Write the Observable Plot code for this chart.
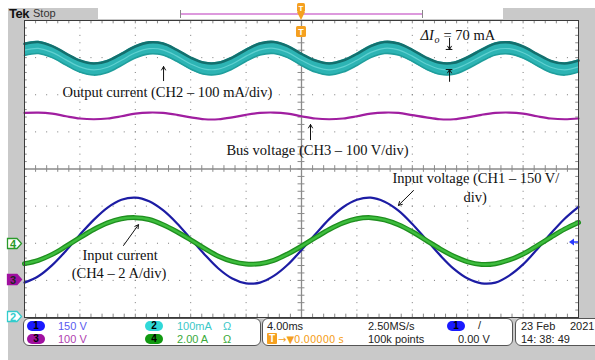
<!DOCTYPE html>
<html><head><meta charset="utf-8">
<script src="https://cdn.jsdelivr.net/npm/d3@7"></script>
<script src="https://cdn.jsdelivr.net/npm/@observablehq/plot@0.6"></script>
<style>
body{margin:0;background:#fff;}
#wrap{position:relative;width:595px;height:360px;overflow:hidden;font-family:"Liberation Sans",Arial,sans-serif;}
.a{position:absolute;white-space:nowrap;}
#bg{left:8px;top:8px;width:587px;height:352px;background:#c9c9c9;}
#plot{left:0;top:0;}
.box{background:#fff;border:1px solid #555;border-radius:6px;box-sizing:border-box;}
.t{font-size:11px;line-height:11px;}
.pill{width:18px;height:10px;border-radius:5px;font-size:10px;line-height:10px;text-align:center;color:#000;font-weight:bold;}
</style></head>
<body>
<div id="wrap">
  <div class="a" id="bg"></div>
  <div class="a" id="plot"></div>
</div>
<script>
// ---- data ----
// time in ms (4 ms/div, trigger at centre), values in divisions from screen centre
const time = d3.range(-20, 21, 1);
const ch1 = [-3.06,-2.89,-2.59,-2.20,-1.77,-1.37,-1.04,-0.83,-0.77,-0.87,-1.11,-1.46,-1.88,-2.30,-2.68,-2.95,-3.08,-3.06,-2.88,-2.58,-2.18,-1.76,-1.35,-1.03,-0.83,-0.77,-0.88,-1.12,-1.48,-1.90,-2.32,-2.69,-2.95,-3.08,-3.06,-2.87,-2.57,-2.17,-1.74,-1.34,-1.02];
const ch2 = [3.22,3.27,3.16,2.96,2.77,2.69,2.76,2.95,3.15,3.26,3.23,3.06,2.85,2.71,2.71,2.85,3.06,3.23,3.27,3.16,2.95,2.77,2.69,2.77,2.95,3.16,3.27,3.23,3.06,2.85,2.71,2.71,2.86,3.06,3.23,3.26,3.15,2.95,2.76,2.69,2.77];
const ch3 = [1.51,1.52,1.49,1.42,1.36,1.34,1.36,1.42,1.49,1.52,1.51,1.46,1.39,1.34,1.34,1.39,1.46,1.51,1.52,1.49,1.42,1.36,1.34,1.36,1.42,1.49,1.52,1.51,1.45,1.39,1.34,1.34,1.39,1.46,1.51,1.52,1.49,1.42,1.36,1.34,1.36];
const ch4 = [-2.55,-2.46,-2.30,-2.08,-1.85,-1.63,-1.45,-1.34,-1.31,-1.36,-1.50,-1.69,-1.91,-2.14,-2.35,-2.49,-2.56,-2.55,-2.46,-2.29,-2.08,-1.85,-1.63,-1.45,-1.34,-1.31,-1.37,-1.50,-1.69,-1.92,-2.15,-2.35,-2.50,-2.57,-2.55,-2.45,-2.29,-2.07,-1.84,-1.62,-1.44];
// graticule
const timeTicks = d3.range(-20, 21, 4);
const divTicks = d3.range(-4, 5, 1);
const minorT = d3.range(-20, 20.01, 0.8);
const minorV = d3.range(-4, 4.01, 0.2);
// annotations
const labels = [
  {t:-17.26, v:2.06, text:"Output current (CH2 \u2013 100 mA/div)"},
  {t:-5.42, v:0.50, text:"Bus voltage (CH3 \u2013 100 V/div)"},
  {t:6.57, v:-0.26, text:"Input voltage (CH1 \u2013 150 V/"},
  {t:11.70, v:-0.77, text:"div)"},
  {t:10.25, v:3.60, text:"= 70 mA"}
];
const centred = [
  {t:-13.1, v:-2.33, text:"Input current"},
  {t:-13.18, v:-2.81, text:"(CH4 \u2013 2 A/div)"}
];
const arrows = [
  {t1:-9.96, v1:2.38, t2:-9.96, v2:2.76},
  {t1:0.65, v1:0.79, t2:0.65, v2:1.20},
  {t1:-12.85, v1:-2.06, t2:-11.77, v2:-1.50},
  {t1:8.09, v1:-0.58, t2:7.0, v2:-0.98},
  {t1:10.69, v1:3.52, t2:10.69, v2:3.22},
  {t1:10.69, v1:2.36, t2:10.69, v2:2.68}
];
const bars = [{v:3.22},{v:2.68}];

const rows = (arr) => time.map((t,i)=>({t, v:arr[i]}));
const d1 = rows(ch1), d2 = rows(ch2), d3r = rows(ch3), d4 = rows(ch4);
const serif = "Liberation Serif, Times New Roman, serif";
const cr = "catmull-rom";

const plot = Plot.plot({
  width:595, height:360,
  marginLeft:24, marginRight:17, marginTop:20, marginBottom:43,
  x:{domain:[-20,20], axis:null},
  y:{domain:[-4,4], axis:null},
  style:{background:"transparent", overflow:"visible"},
  marks:[
    Plot.frame({fill:"white", stroke:null}),
    Plot.ruleX(timeTicks.filter(d=>d!==0 && Math.abs(d)!==20), {y1:4, y2:-4, stroke:"#7a7a7a", strokeDasharray:"1 6.425"}),
    Plot.ruleY(divTicks.filter(d=>d!==0 && Math.abs(d)!==4), {x1:-20, x2:20, stroke:"#7a7a7a", strokeDasharray:"1 10.08"}),
    Plot.ruleY([0], {stroke:"#8a8a8a", strokeWidth:1.3}),
    Plot.ruleX([0], {stroke:"#8a8a8a", strokeWidth:1.3}),
    Plot.ruleX(minorT, {y1:-0.09, y2:0.09, stroke:"#8a8a8a"}),
    Plot.ruleY(minorV, {x1:-0.25, x2:0.25, stroke:"#8a8a8a"}),
    Plot.ruleX(minorT, {y1:3.91, y2:4, stroke:"#8a8a8a"}),
    Plot.ruleX(minorT, {y1:-4, y2:-3.91, stroke:"#8a8a8a"}),
    Plot.ruleY(minorV, {x1:-20, x2:-19.8, stroke:"#8a8a8a"}),
    Plot.ruleY(minorV, {x1:19.8, x2:20, stroke:"#8a8a8a"}),
    // CH1 input voltage
    Plot.line(d1, {x:"t", y:"v", stroke:"#1c1ca4", strokeWidth:2.2, curve:cr}),
    // CH2 output current (wide noisy band)
    Plot.areaY(d2, {x:"t", y1:d=>d.v-0.18, y2:d=>d.v+0.17, fill:"#2db4b4", curve:cr}),
    Plot.line(d2, {x:"t", y:d=>d.v+0.15, stroke:"#13706e", strokeWidth:2.6, curve:cr}),
    Plot.line(d2, {x:"t", y:d=>d.v-0.16, stroke:"#1f9e9c", strokeWidth:1.6, curve:cr}),
    Plot.line(d2, {x:"t", y:d=>d.v-0.02, stroke:"#5fd0d0", strokeWidth:1.2, curve:cr}),
    // CH3 bus voltage
    Plot.line(d3r, {x:"t", y:"v", stroke:"#a01ea0", strokeWidth:2.2, curve:cr}),
    // CH4 input current
    Plot.line(d4, {x:"t", y:"v", stroke:"#1f8f1f", strokeWidth:5, curve:cr}),
    Plot.line(d4, {x:"t", y:"v", stroke:"#3dbd3d", strokeWidth:2.4, curve:cr}),
    Plot.frame({stroke:"#3a3a3a"}),
    // annotations
    Plot.text(labels, {x:"t", y:"v", text:"text", textAnchor:"start", fontFamily:serif, fontSize:14.5, fill:"#111"}),
    Plot.text(centred, {x:"t", y:"v", text:"text", textAnchor:"middle", fontFamily:serif, fontSize:14.5, fill:"#111"}),
    Plot.text([{t:8.59, v:3.60, text:"\u0394I"}], {x:"t", y:"v", text:"text", textAnchor:"start", fontFamily:serif, fontStyle:"italic", fontSize:14.5, fill:"#111"}),
    Plot.text([{t:9.6, v:3.47, text:"o"}], {x:"t", y:"v", text:"text", textAnchor:"start", fontFamily:serif, fontStyle:"italic", fontSize:10, fill:"#111"}),
    Plot.arrow(arrows, {x1:"t1", y1:"v1", x2:"t2", y2:"v2", stroke:"#111", strokeWidth:1, headLength:6}),
    Plot.ruleY(bars, {y:"v", x1:10.45, x2:10.93, stroke:"#111", strokeWidth:1})
  ]
});
document.getElementById("plot").appendChild(plot);

// ---- scope screen furniture (HTML overlay) ----
const wrap = document.getElementById("wrap");
function add(html){ wrap.insertAdjacentHTML("beforeend", html); }
// top bar
add('<div class="a" style="left:9px;top:6px;font-size:13px;font-weight:bold;color:#111;letter-spacing:-0.5px">Tek</div>');
add('<div class="a" style="left:33px;top:7px;font-size:11px;color:#333">Stop</div>');
add('<div class="a" style="left:98px;top:8px;width:405px;height:11px;background:#fff;"></div>');
add('<div class="a" style="left:180px;top:13px;width:243px;height:2px;background:#dd99dd;"></div>');
add('<div class="a" style="left:180px;top:10px;width:1px;height:8px;background:#888;"></div>');
add('<div class="a" style="left:422px;top:10px;width:1px;height:8px;background:#888;"></div>');
// trigger position markers
add('<svg class="a" style="left:294px;top:0px" width="14" height="40"><rect x="3" y="3" width="8" height="9" rx="1.5" fill="#f5a020"/><text x="7" y="11" font-size="8" text-anchor="middle" fill="#fff" font-family="Liberation Sans" font-weight="bold">T</text><path d="M3 12 L11 12 L7 20 Z" fill="#f5a020"/><rect x="2" y="26" width="10" height="11" rx="1.5" fill="#f5a020"/><text x="7" y="35" font-size="9" text-anchor="middle" fill="#fff" font-family="Liberation Sans" font-weight="bold">T</text></svg>');
// channel ground markers (left)
function marker(y, fill, stroke, txt, tcol){
  add('<svg class="a" style="left:6px;top:'+(y-6)+'px" width="18" height="13"><path d="M1.5 1.5 H11 L15.5 6.5 L11 11.5 H1.5 Z" fill="'+fill+'" stroke="'+stroke+'" stroke-width="1.3"/><text x="7" y="10.5" font-size="11" font-weight="bold" text-anchor="middle" fill="'+tcol+'" font-family="Liberation Sans">'+txt+'</text></svg>');
}
marker(243, "#fff", "#2a9a2a", "4", "#2a9a2a");
marker(279, "#a010a0", "#a010a0", "3", "#222");
marker(316, "#fff", "#33cccc", "2", "#33cccc");
// trigger level arrow (right)
add('<svg class="a" style="left:568px;top:237px" width="10" height="10"><path d="M1 5 L6 1.5 L6 8.5 Z" fill="#2a3aff"/><line x1="5" y1="5" x2="10" y2="5" stroke="#2a3aff" stroke-width="1.5"/></svg>');
// bottom panel
add('<div class="a box" style="left:23px;top:318px;width:238px;height:28px;"></div>');
add('<div class="a box" style="left:262px;top:318px;width:251px;height:28px;"></div>');
add('<div class="a box" style="left:515px;top:318px;width:90px;height:28px;"></div>');
function pill(x,y,bg,n){ add('<div class="a pill" style="left:'+x+'px;top:'+y+'px;background:'+bg+'">'+n+'</div>'); }
function txt(x,y,col,s,extra){ add('<div class="a t" style="left:'+x+'px;top:'+y+'px;color:'+col+';'+(extra||'')+'">'+s+'</div>'); }
pill(27,321,"#1a1aff","1"); txt(58,321,"#5a5af0","150 V");
pill(27,334,"#a010a0","3"); txt(58,334,"#b040b0","100 V");
pill(145,321,"#30d8d8","2"); txt(177,321,"#3cc8c8","100mA"); txt(223,321,"#3cc8c8","\u03a9");
pill(145,334,"#119911","4"); txt(177,334,"#3aaa3a","2.00 A"); txt(223,334,"#3aaa3a","\u03a9");
txt(267,321,"#222","4.00ms");
add('<div class="a" style="left:267px;top:333px;width:10px;height:11px;background:#f5a020;border-radius:1px;color:#fff;font-size:10px;line-height:11px;text-align:center;font-weight:bold">T</div>');
txt(278,334,"#f5a020","\u2192\u25bc0.00000 s","font-family:DejaVu Sans;font-size:10px");
txt(368,321,"#222","2.50MS/s");
txt(368,334,"#222","100k points");
pill(447,321,"#1a1aff","1");
txt(478,320,"#222","/");
txt(458,334,"#222","0.00 V");
txt(521,321,"#222","23 Feb");
txt(570,321,"#222","2021");
txt(521,334,"#222","14: 38: 49");
</script>
</body></html>
